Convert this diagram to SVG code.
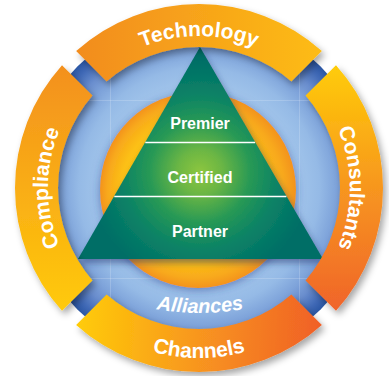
<svg xmlns="http://www.w3.org/2000/svg" xmlns:xlink="http://www.w3.org/1999/xlink" width="389" height="376" viewBox="0 0 389 376">
  <style>
    .ring { font-family: "Liberation Sans", Arial, sans-serif; font-weight: bold; font-size: 21px; fill: #ffffff; }
    .tier { font-family: "Liberation Sans", Arial, sans-serif; font-weight: bold; font-size: 16px; fill: #ffffff; text-anchor: middle; }
    .alli { font-family: "Liberation Sans", Arial, sans-serif; font-weight: bold; font-style: italic; font-size: 20px; fill: #ffffff; }
    .divider { stroke: #ffffff; stroke-width: 1.3; }
    .guide { stroke: #ffffff; stroke-opacity: 0.18; stroke-width: 1; fill: none; }
  </style>
  <defs>
    <radialGradient id="blueG" gradientUnits="userSpaceOnUse" cx="199" cy="188" r="172">
      <stop offset="0" stop-color="#B5D3F0"/>
      <stop offset="0.55" stop-color="#A4C7EC"/>
      <stop offset="0.7" stop-color="#95BAE6"/>
      <stop offset="0.8" stop-color="#7EA3DA"/>
      <stop offset="0.87" stop-color="#6A8ECE"/>
      <stop offset="0.95" stop-color="#4069B6"/>
      <stop offset="1" stop-color="#2A56A4"/>
    </radialGradient>
    <radialGradient id="orangeG" gradientUnits="userSpaceOnUse" cx="198" cy="190" r="98" fx="175" fy="190">
      <stop offset="0" stop-color="#FFD400"/>
      <stop offset="0.72" stop-color="#FCC013"/>
      <stop offset="0.9" stop-color="#F8A91C"/>
      <stop offset="1" stop-color="#F3931F"/>
    </radialGradient>
    <radialGradient id="triG" gradientUnits="userSpaceOnUse" cx="200" cy="172" r="112">
      <stop offset="0" stop-color="#8DC63F"/>
      <stop offset="0.2" stop-color="#6BB644"/>
      <stop offset="0.45" stop-color="#289955"/>
      <stop offset="0.7" stop-color="#0A8266"/>
      <stop offset="1" stop-color="#006E66"/>
    </radialGradient>
    <linearGradient id="gTech" gradientUnits="userSpaceOnUse" x1="76" y1="60" x2="322" y2="60">
      <stop offset="0" stop-color="#F28C1F"/>
      <stop offset="1" stop-color="#FDBC14"/>
    </linearGradient>
    <linearGradient id="gCons" gradientUnits="userSpaceOnUse" x1="330" y1="65" x2="330" y2="311">
      <stop offset="0" stop-color="#FFCC06"/>
      <stop offset="0.5" stop-color="#F7961F"/>
      <stop offset="1" stop-color="#F0642A"/>
    </linearGradient>
    <linearGradient id="gChan" gradientUnits="userSpaceOnUse" x1="76" y1="320" x2="322" y2="335">
      <stop offset="0" stop-color="#FFCC06"/>
      <stop offset="0.5" stop-color="#F8961F"/>
      <stop offset="1" stop-color="#F05F26"/>
    </linearGradient>
    <linearGradient id="gComp" gradientUnits="userSpaceOnUse" x1="60" y1="65" x2="60" y2="311">
      <stop offset="0" stop-color="#F3901F"/>
      <stop offset="1" stop-color="#FFCA0A"/>
    </linearGradient>
    <filter id="segShadow" x="-20%" y="-20%" width="140%" height="150%">
      <feDropShadow dx="3" dy="4" stdDeviation="3.5" flood-color="#000000" flood-opacity="0.35"/>
    </filter>
    <filter id="discShadow" x="-20%" y="-20%" width="140%" height="140%">
      <feDropShadow dx="0" dy="2" stdDeviation="5" flood-color="#2B3E8F" flood-opacity="0.55"/>
    </filter>
    <filter id="triShadow" x="-20%" y="-20%" width="140%" height="140%">
      <feDropShadow dx="2" dy="4" stdDeviation="3" flood-color="#1B2F6B" flood-opacity="0.5"/>
    </filter>
    <path id="pTop" d="M 47 188 A 152 152 0 0 1 351 188"/>
    <path id="pLeft" d="M 199 339 A 151 151 0 0 1 199 37"/>
    <path id="pRight" d="M 199 37 A 151 151 0 0 1 199 339"/>
    <path id="pBottom" d="M 29 188 A 170 170 0 0 0 369 188"/>
    <path id="pAlli" d="M 100 292.1 A 250 250 0 0 0 300 292.1"/>
  </defs>

  <g id="background">
    <circle cx="199" cy="188" r="172" fill="url(#blueG)"/>
    <g id="guides">
      <line class="guide" x1="68" y1="100.5" x2="342" y2="100.5"/>
      <line class="guide" x1="68" y1="278.5" x2="342" y2="278.5"/>
      <line class="guide" x1="110.5" y1="72" x2="110.5" y2="330"/>
      <line class="guide" x1="299.5" y1="57" x2="299.5" y2="310"/>
      <line class="guide" x1="68.5" y1="72" x2="68.5" y2="100"/>
      <line class="guide" x1="68.5" y1="278" x2="68.5" y2="330"/>
      <line class="guide" x1="68" y1="330.5" x2="110" y2="330.5"/>
    </g>
  </g>

  <g id="core">
    <circle cx="198" cy="190" r="98" fill="url(#orangeG)" filter="url(#discShadow)"/>
  </g>

  <g id="pyramid">
    <polygon points="200,47 78,259 323,259" fill="url(#triG)" filter="url(#triShadow)"/>
    <line class="divider" x1="145.3" y1="142.5" x2="255.1" y2="142.5"/>
    <line class="divider" x1="114.3" y1="196.5" x2="286.4" y2="196.5"/>
  </g>
  <g id="premier"><text class="tier" x="200" y="129">Premier</text></g>
  <g id="certified"><text class="tier" x="200" y="183">Certified</text></g>
  <g id="partner"><text class="tier" x="200" y="237">Partner</text></g>

  <g id="alliances">
    <text class="alli"><textPath href="#pAlli" xlink:href="#pAlli" startOffset="50%" text-anchor="middle">Alliances</textPath></text>
  </g>

  <g id="technology">
    <path d="M 76.15 51.01 A 184 184 0 0 1 321.85 51.01 L 291.38 81.48 A 141 141 0 0 0 106.62 81.48 Z" fill="url(#gTech)" filter="url(#segShadow)"/>
    <text class="ring"><textPath href="#pTop" xlink:href="#pTop" startOffset="50%" text-anchor="middle">Technology</textPath></text>
  </g>
  <g id="consultants">
    <path d="M 335.99 65.15 A 184 184 0 0 1 335.99 310.85 L 305.52 280.38 A 141 141 0 0 0 305.52 95.62 Z" fill="url(#gCons)" filter="url(#segShadow)"/>
    <text class="ring"><textPath href="#pRight" xlink:href="#pRight" startOffset="50%" text-anchor="middle">Consultants</textPath></text>
  </g>
  <g id="channels">
    <path d="M 321.85 324.99 A 184 184 0 0 1 76.15 324.99 L 106.62 294.52 A 141 141 0 0 0 291.38 294.52 Z" fill="url(#gChan)" filter="url(#segShadow)"/>
    <text class="ring"><textPath href="#pBottom" xlink:href="#pBottom" startOffset="50%" text-anchor="middle">Channels</textPath></text>
  </g>
  <g id="compliance">
    <path d="M 62.01 310.85 A 184 184 0 0 1 62.01 65.15 L 92.48 95.62 A 141 141 0 0 0 92.48 280.38 Z" fill="url(#gComp)" filter="url(#segShadow)"/>
    <text class="ring"><textPath href="#pLeft" xlink:href="#pLeft" startOffset="50%" text-anchor="middle">Compliance</textPath></text>
  </g>

  <g id="connectors"></g>
</svg>
